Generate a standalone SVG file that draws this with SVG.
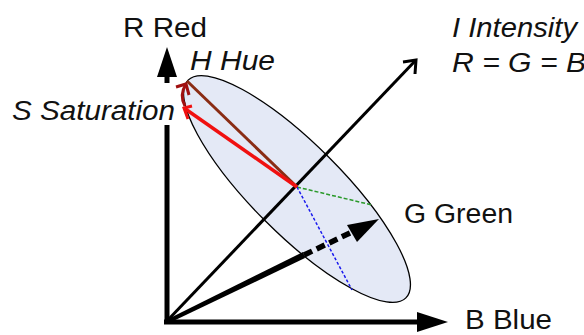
<svg xmlns="http://www.w3.org/2000/svg" width="584" height="335" viewBox="0 0 584 335">
<style>
text{font-family:"Liberation Sans",Arial,sans-serif;font-size:27px;fill:#111}
.it{font-style:italic}
.ax{stroke:#000;fill:none}
</style>
<rect width="584" height="335" fill="#fff"/>
<g id="plane">
<ellipse cx="297" cy="189" rx="154" ry="45" transform="rotate(45 297 189)" fill="#e4e9f6" stroke="#000" stroke-width="1.3"/>
</g>
<g id="connectors">
<path class="ax" d="M167,322 V125 M167,83 V72" stroke-width="5"/>
<polygon points="167,47 157,77 177,77" fill="#000"/>
<path class="ax" d="M164,322 H420" stroke-width="5"/>
<polygon points="448,322 417,312 417,332" fill="#000"/>
<path class="ax" d="M166,322 L416,60" stroke-width="3"/>
<path class="ax" d="M403,62 L416,60 L415,74" stroke-width="3"/>
<path d="M297,187 L372,205" stroke="#2a9a2a" stroke-width="1.5" stroke-dasharray="4,2" fill="none"/>
<path d="M297,187 L352,290" stroke="#1a1aee" stroke-width="1.5" stroke-dasharray="3,2" fill="none"/>
<polygon points="166,320 303,252 305,258 167,324" fill="#000"/>
<path d="M304,255 L352,232" stroke="#000" stroke-width="5.5" stroke-dasharray="9,5" fill="none"/>
<polygon points="379,219 347,225 357,242" fill="#000"/>
<path d="M297,187 L187,81" stroke="#8a2c14" stroke-width="3" fill="none"/>
<path d="M297,187 L184,108" stroke="#f01010" stroke-width="3.5" fill="none"/>
<path d="M192,106 L184,108 L188,119" stroke="#f01010" stroke-width="3" fill="none"/>
<path d="M185,106 Q179,95 186,84" stroke="#a01010" stroke-width="3" fill="none"/>
<path d="M176,87 L186,84 L189,95" stroke="#a01010" stroke-width="3" fill="none"/>
</g>
<g id="labels">
<text x="123" y="37" textLength="84" lengthAdjust="spacingAndGlyphs">R Red</text>
<text class="it" x="190" y="70" textLength="85" lengthAdjust="spacingAndGlyphs">H Hue</text>
<text class="it" x="12" y="120" textLength="163" lengthAdjust="spacingAndGlyphs">S Saturation</text>
<text class="it" x="452" y="37" textLength="125" lengthAdjust="spacingAndGlyphs">I Intensity</text>
<text class="it" x="452" y="72" textLength="134" lengthAdjust="spacingAndGlyphs">R = G = B</text>
<text x="404" y="223" textLength="109" lengthAdjust="spacingAndGlyphs">G Green</text>
<text x="465" y="329" textLength="87" lengthAdjust="spacingAndGlyphs">B Blue</text>
</g>
</svg>
